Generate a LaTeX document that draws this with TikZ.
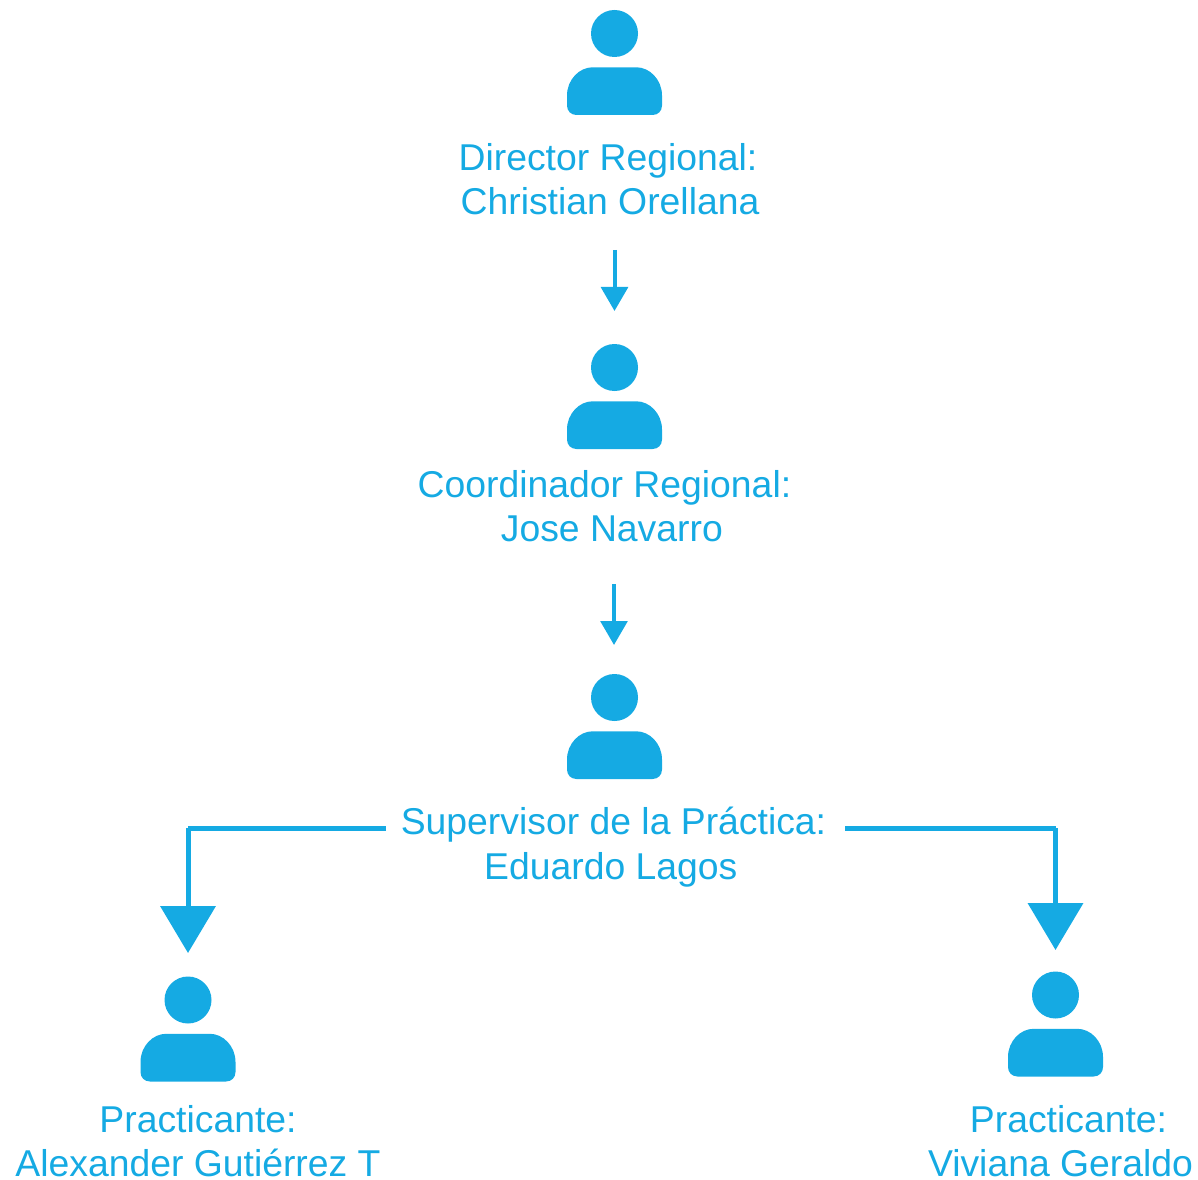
\documentclass[tikz,border=0pt]{standalone}
\usepackage{fontspec}
\setmainfont{Liberation Sans}
\usetikzlibrary{arrows.meta}
\definecolor{orgblue}{HTML}{15AAE3}
\tikzset{
  x=0.75pt,y=-0.75pt,
  person/.pic={
    \fill[orgblue] (0,0) circle[radius=23.5*0.75pt];
    \fill[orgblue] (-47.5,62) -- (-47.5,72) .. controls (-47.5,77.5) and (-43.5,81.5) .. (-38,81.5)
      -- (38,81.5) .. controls (43.5,81.5) and (47.5,77.5) .. (47.5,72) -- (47.5,62)
      .. controls (47.5,46) and (35,33.8) .. (22,33.8) -- (-22,33.8)
      .. controls (-35,33.8) and (-47.5,46) .. (-47.5,62) -- cycle;
  },
  lbl/.style={text=orgblue,font=\fontsize{28}{33.4}\selectfont,align=center,inner sep=0pt,anchor=center},
  bigline/.style={draw=orgblue,line width=3.75pt},
  bigarrow/.style={bigline,-{Triangle[width=41pt,length=35.25pt]}},
  smallarrow/.style={draw=orgblue,line width=3pt,-{Triangle[width=20pt,length=18pt]}}
}
\begin{document}
\begin{tikzpicture}
\useasboundingbox (0,0) rectangle (1198,1180);
\pic at (614.5,33.5) {person};
\pic at (614.5,367.5) {person};
\pic at (614.5,697.5) {person};
\pic at (188,1000) {person};
\pic at (1055.5,995) {person};
\node[lbl] (director) at (608,179) {Director Regional:\\\hspace*{3pt}Christian Orellana};
\node[lbl] (coord) at (604.5,506) {Coordinador Regional:\\\hspace*{11pt}Jose Navarro};
\node[lbl] (sup) at (613.5,847) {Supervisor de la Práctica:\\\hspace*{-4pt}Eduardo Lagos};
\node[lbl] (pa) at (198,1141) {Practicante:\\Alexander Gutiérrez T};
\node[lbl] (pv) at (1060.5,1141) {\hspace*{12pt}Practicante:\\Viviana Geraldo};
\coordinate (a1s) at (614.5,250);
\coordinate (a1e) at (614.5,311);
\coordinate (a2s) at (614,584);
\coordinate (a2e) at (614,645);
\coordinate (ls) at (386,828);
\coordinate (lc) at (188,828);
\coordinate (le) at (188,953);
\coordinate (rs) at (845,828);
\coordinate (rc) at (1055.5,828);
\coordinate (re) at (1055.5,950);
\draw[smallarrow] (a1s) -- (a1e);
\draw[smallarrow] (a2s) -- (a2e);
\draw[bigline] (ls) -- (lc);
\draw[bigarrow] (lc) -- (le);
\draw[bigline] (rs) -- (rc);
\draw[bigarrow] (rc) -- (re);
\end{tikzpicture}
\end{document}
